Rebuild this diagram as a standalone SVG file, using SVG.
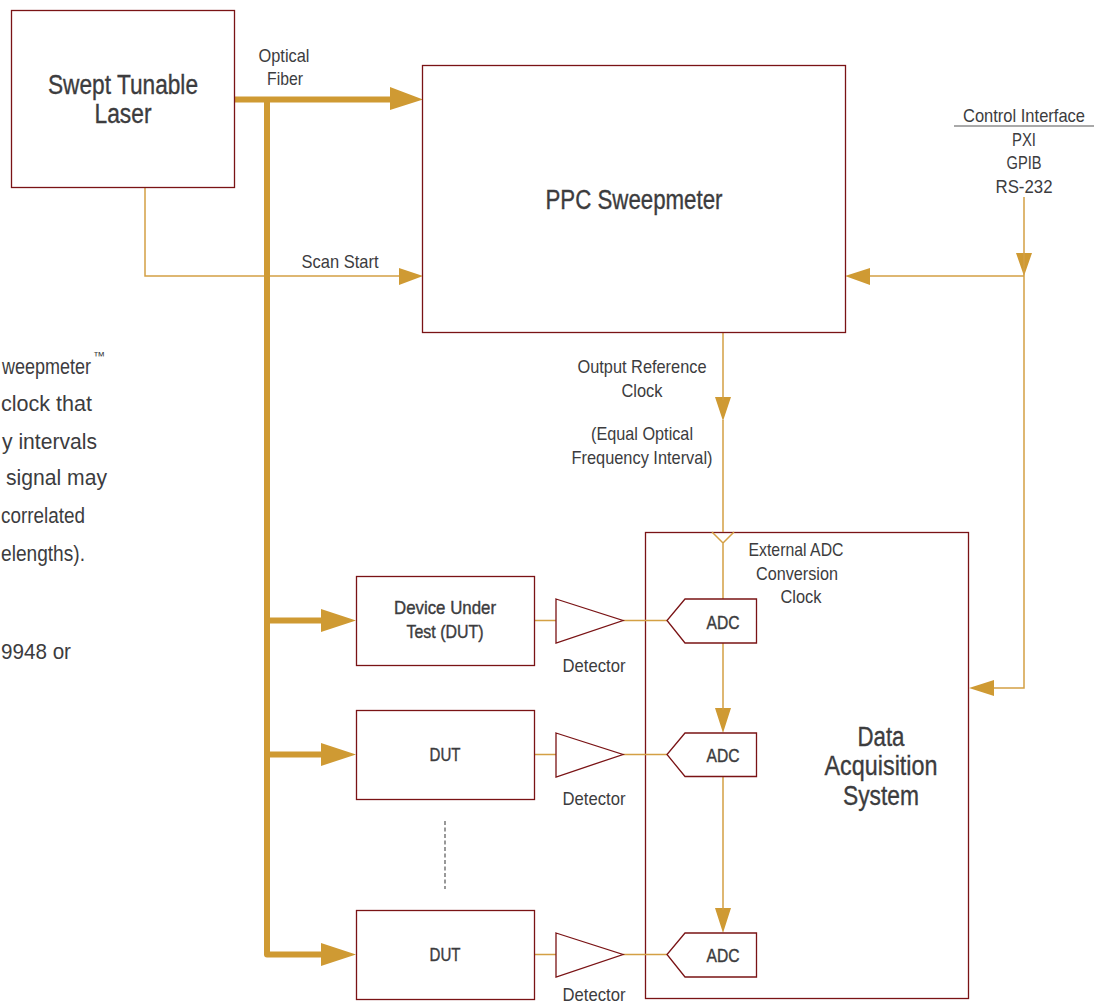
<svg xmlns="http://www.w3.org/2000/svg" width="1104" height="1003" viewBox="0 0 1104 1003">
<style>
text{font-family:"Liberation Sans",Arial,sans-serif;fill:#3c3c3e;text-anchor:middle}
.s{font-size:19px}.b{font-size:27px;stroke:#3c3c3e;stroke-width:.35px}.m{font-size:19px;stroke:#3c3c3e;stroke-width:.4px}
.l{font-size:22px;text-anchor:end}
.box{fill:#fff;stroke:#7a1315;stroke-width:1.3}
.thin{fill:none;stroke:#d4a044;stroke-width:1.5}
.thick{fill:none;stroke:#cf9a33;stroke-width:6;stroke-linejoin:round}
.ah{fill:#cf9a33}
</style>
<g id="daq"><rect class="box" x="645.500" y="532.500" width="323" height="466"/><text class="b" x="881" y="746" textLength="47" lengthAdjust="spacingAndGlyphs">Data</text><text class="b" x="881" y="775" textLength="113" lengthAdjust="spacingAndGlyphs">Acquisition</text><text class="b" x="881" y="805" textLength="76" lengthAdjust="spacingAndGlyphs">System</text></g>
<g id="connectors">
<path class="thin" d="M145 187V276H400"/>
<path class="thick" d="M234 99.500H392M267 99.500V954.500H323M267 620.500H323M267 754.500H323"/>
<path class="ah" d="M390 87L423 99.500 390 110ZM321 609L356 620.500 321 632ZM321 743L356 754.500 321 766ZM321 943L356 954.500 321 966Z"/>
<path class="ah" d="M399 268L423 276 399 285ZM845 276L870 268V285ZM715 397H731L723 421ZM1016 253H1032L1024 276ZM969 688L994 680V696ZM715 708H731L723 733ZM715 908H731L723 933Z"/>
<path class="thin" d="M870 276H1024M1024 197V688H994M723 332V400M723 420V532M723 543V599M723 643V710M723 776V910M712 532L723 543 734 532"/>
<path class="thin" d="M534 620.500H556M623 620.500H667M534 754.500H556M623 754.500H667M534 954.500H556M623 954.500H667"/>
<path d="M445 821V889" fill="none" stroke="#555" stroke-width="1.2" stroke-dasharray="4 2.500"/>
<path d="M954 126H1094" fill="none" stroke="#555" stroke-width="1.2"/>
</g>
<g id="laser"><rect class="box" x="11.500" y="10.500" width="223" height="177"/><text class="b" x="123" y="94" textLength="150" lengthAdjust="spacingAndGlyphs">Swept Tunable</text><text class="b" x="123" y="123" textLength="57" lengthAdjust="spacingAndGlyphs">Laser</text></g>
<g id="sweepmeter"><rect class="box" x="422.500" y="65.500" width="423" height="267"/><text class="b" x="634" y="209" textLength="177" lengthAdjust="spacingAndGlyphs">PPC Sweepmeter</text></g>
<g id="dut1"><rect class="box" x="356.500" y="576.500" width="178" height="89"/><text class="m" x="445" y="614" textLength="102" lengthAdjust="spacingAndGlyphs">Device Under</text><text class="m" x="445" y="638" textLength="77" lengthAdjust="spacingAndGlyphs">Test (DUT)</text></g>
<g id="dut2"><rect class="box" x="356.500" y="710.500" width="178" height="89"/><text class="m" x="445" y="761" textLength="31" lengthAdjust="spacingAndGlyphs">DUT</text></g>
<g id="dut3"><rect class="box" x="356.500" y="910.500" width="178" height="89"/><text class="m" x="445" y="961" textLength="31" lengthAdjust="spacingAndGlyphs">DUT</text></g>
<g id="det1"><path class="box" d="M556 599L623 620.500 556 643Z"/></g>
<g id="det2"><path class="box" d="M556 733L623 754.500 556 777Z"/></g>
<g id="det3"><path class="box" d="M556 933L623 954.500 556 977Z"/></g>
<g id="adc1"><path class="box" d="M685 599H756.500V643H685L667 620.500Z"/><text class="m" x="723" y="629" textLength="33" lengthAdjust="spacingAndGlyphs">ADC</text></g>
<g id="adc2"><path class="box" d="M685 733H756.500V776.500H685L667 754.500Z"/><text class="m" x="723" y="762" textLength="33" lengthAdjust="spacingAndGlyphs">ADC</text></g>
<g id="adc3"><path class="box" d="M685 933H756.500V977H685L667 954.500Z"/><text class="m" x="723" y="962" textLength="33" lengthAdjust="spacingAndGlyphs">ADC</text></g>
<g id="labels">
<text class="s" x="284" y="62" textLength="51" lengthAdjust="spacingAndGlyphs">Optical</text>
<text class="s" x="285" y="85" textLength="36" lengthAdjust="spacingAndGlyphs">Fiber</text>
<text class="s" x="340" y="268" textLength="77" lengthAdjust="spacingAndGlyphs">Scan Start</text>
<text class="s" x="642" y="373" textLength="129" lengthAdjust="spacingAndGlyphs">Output Reference</text>
<text class="s" x="642" y="397" textLength="41" lengthAdjust="spacingAndGlyphs">Clock</text>
<text class="s" x="642" y="440" textLength="102" lengthAdjust="spacingAndGlyphs">(Equal Optical</text>
<text class="s" x="642" y="464" textLength="141" lengthAdjust="spacingAndGlyphs">Frequency Interval)</text>
<text class="s" x="796" y="556" textLength="95" lengthAdjust="spacingAndGlyphs">External ADC</text>
<text class="s" x="797" y="580" textLength="82" lengthAdjust="spacingAndGlyphs">Conversion</text>
<text class="s" x="801" y="603" textLength="41" lengthAdjust="spacingAndGlyphs">Clock</text>
<text class="s" x="1024" y="122" textLength="122" lengthAdjust="spacingAndGlyphs">Control Interface</text>
<text class="s" x="1024" y="146" textLength="24" lengthAdjust="spacingAndGlyphs">PXI</text>
<text class="s" x="1024" y="169" textLength="35" lengthAdjust="spacingAndGlyphs">GPIB</text>
<text class="s" x="1024" y="193" textLength="57" lengthAdjust="spacingAndGlyphs">RS-232</text>
<text class="s" x="594" y="672" textLength="63" lengthAdjust="spacingAndGlyphs">Detector</text>
<text class="s" x="594" y="805" textLength="63" lengthAdjust="spacingAndGlyphs">Detector</text>
<text class="s" x="594" y="1001" textLength="63" lengthAdjust="spacingAndGlyphs">Detector</text>
<text class="l" x="91" y="374" textLength="89" lengthAdjust="spacingAndGlyphs">weepmeter</text>
<text style="font-size:12px;text-anchor:start" x="93" y="360">™</text>
<text class="l" x="92" y="411" textLength="91" lengthAdjust="spacingAndGlyphs">clock that</text>
<text class="l" x="97" y="449" textLength="95" lengthAdjust="spacingAndGlyphs">y intervals</text>
<text class="l" x="107" y="485" textLength="101" lengthAdjust="spacingAndGlyphs">signal may</text>
<text class="l" x="85" y="523" textLength="84" lengthAdjust="spacingAndGlyphs">correlated</text>
<text class="l" x="85" y="561" textLength="84" lengthAdjust="spacingAndGlyphs">elengths).</text>
<text class="l" x="71" y="659" textLength="70" lengthAdjust="spacingAndGlyphs">9948 or</text>
</g>
</svg>
